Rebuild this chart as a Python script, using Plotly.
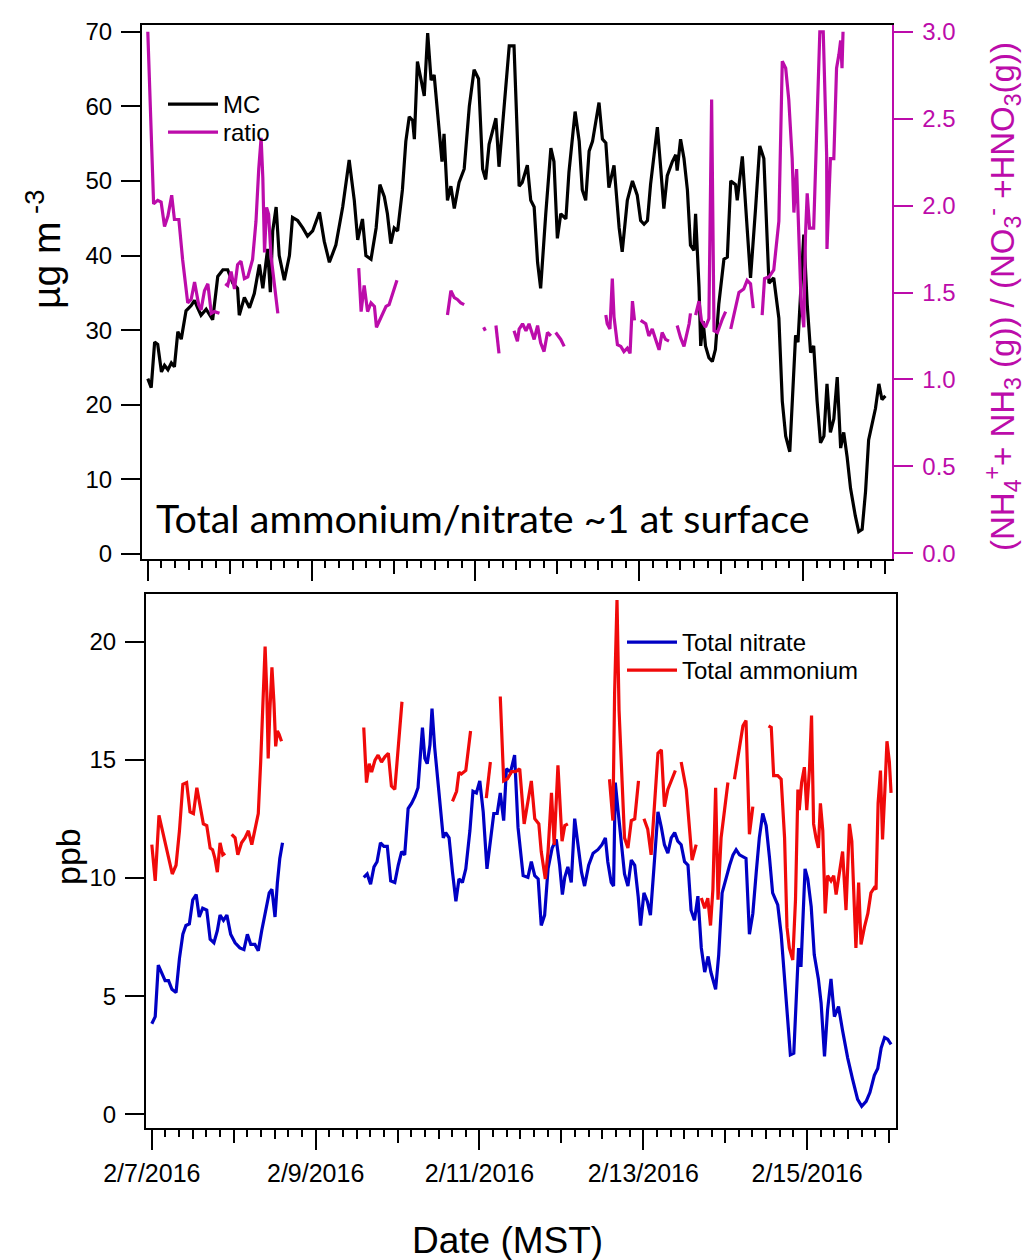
import plotly.graph_objects as go
from datetime import datetime, timedelta

START = datetime(2016, 2, 7)

# ---------------- top panel: MC (ug m-3), hours after 2/7/2016 00:00 ----------------
MC_HOURS = [0, 1, 2, 2.9, 4, 4.9, 5.9, 6.9, 7.8, 8.8, 9.8, 11.2, 12.7, 13.7, 14.6, 15.6, 17.1, 19, 20.5, 22,
            23.4, 24.9, 26.3, 26.8, 28.3, 29.8, 31.2, 32.7, 33.7, 35.1, 35.9, 36.6, 37.6, 38.5, 40, 41.5, 42.4,
            43.9, 45.4, 46.8, 48.3, 50.3, 51.7, 53.2, 55.1, 57.1, 59, 60.5, 61.5, 62.9, 63.9, 65.4, 66.9, 68,
            69.3, 70.2, 71.2, 72.2, 73.2, 74.6, 75.6, 76.6, 77.6, 78.1, 79, 80, 81, 82, 83, 83.9, 85.4, 86.2,
            86.8, 87.8, 88.8, 89.8, 91.2, 92.7, 94.2, 95.6, 96.9, 98.1, 99, 100, 102, 102.9, 103.9, 105.9,
            107.3, 108.8, 109.7, 111.2, 112.2, 113.2, 114.2, 115.1, 116.6, 118.1, 119, 120, 121, 122.5, 123.4,
            125.2, 126.4, 127.3, 128.3, 129.3, 130.3, 132.2, 133.2, 134.2, 135.1, 136.6, 138.1, 139, 140.5,
            142, 143.4, 144.4, 145.4, 146.4, 147.3, 149.3, 150.3, 151.2, 152.2, 153.7, 154.7, 155.1, 156.1,
            157.1, 158.1, 159, 160, 160.5, 161.5, 162, 162.7, 163.4, 164.4, 165.4, 166.3, 167.3, 168.8, 169.8,
            170.8, 172.2, 172.7, 174.2, 175.6, 176.6, 178.1, 179.3, 180.5, 182, 183.4, 184.9, 185.9, 186.9,
            188.1, 189.1, 189.8, 190.5, 191.4, 192.2, 193.2, 194.2, 195.1, 196.1, 197.1, 198.1, 199, 200, 201,
            202, 203, 203.9, 204.9, 205.9, 207.3, 208.3, 209.3, 210.3, 211.2, 212.2, 213.2, 214.2, 215.1, 216.1]
MC_VALUES = [23.5, 22.3, 28.4, 28.1, 24.4, 25.3, 24.7, 25.6, 25.1, 29.8, 28.8, 32.6, 33.3, 34, 33, 32, 32.8, 31.4,
             37.2, 38.1, 38.1, 36.3, 35.6, 32, 34.4, 33, 34.9, 38.8, 35.6, 40.9, 35.1, 43.3, 46.5, 40, 36.7, 40,
             45.1, 44.7, 43.7, 42.6, 43.3, 45.8, 41.9, 39.1, 41.4, 46.5, 52.8, 47.4, 42.1, 44.9, 40, 39.5, 43.7,
             49.5, 47.9, 45.6, 41.6, 43.7, 43.3, 48.8, 55.3, 58.6, 58.1, 55.6, 66, 63.7, 61.4, 69.8, 63.5, 64.2,
             56.7, 52.6, 56.3, 47.4, 49.3, 46.3, 49.8, 51.6, 60, 64.9, 63.7, 51.6, 50.2, 54.9, 58.4, 51.9, 57.2,
             68.1, 68.1, 49.3, 49.8, 52.1, 47.4, 46.5, 39.1, 35.6, 45.6, 54.4, 52.6, 42.3, 45.6, 44.9, 51.2, 59.3,
             55.3, 48.8, 47.4, 54, 55.3, 60.5, 55.6, 55.1, 49.1, 52.1, 43.7, 40.5, 47.4, 50, 48.1, 44.7, 44.2,
             44.7, 49.5, 57.2, 51.6, 46.3, 50.7, 52.6, 53.5, 51.4, 55.6, 53, 48.8, 41.4, 40.7, 45.6, 35.8, 27.9,
             31.2, 27.9, 26.3, 25.8, 27.4, 33.5, 39.5, 39.8, 50, 49.5, 47.4, 53.3, 43.7, 37, 46.5, 54.7, 53, 36.3,
             37, 31.6, 20.5, 15.8, 13.7, 22.8, 29.3, 28.4, 35.3, 42.8, 33.5, 27, 27.9, 20.5, 14.9, 15.8, 22.8,
             16.3, 18.1, 23.7, 14.2, 16.3, 13, 8.8, 5.1, 3, 3.3, 8.4, 15.3, 17.2, 19.5, 22.8, 20.7, 21.2]

# ratio (NH4+ + NH3) / (NO3- + HNO3): segments separated by missing data
RATIO_HOURS = [
    [0, 1, 1.7, 2.9, 3.9, 4.9, 5.9, 7, 7.8, 9.1, 10.2, 11.7, 12.7, 13.7, 14.9, 15.6, 16.6, 17.6, 18.6, 19.5, 21],
    [22.7, 23.4, 24.4, 25.4, 26.3, 27.3, 28.3, 29.3, 30.7, 31.7, 32.5, 33.2, 33.7, 34.2, 34.8, 35.4, 36.1, 37.1, 38.1],
    [61.8, 62.5, 63.4, 63.9, 64.4, 65.4, 66.4, 67, 68.3, 69.8, 70.7, 71.7, 73],
    [87.8, 88.8, 89.8, 90.7, 91.7, 92.7],
    [98.4, 98.9],
    [102, 102.9],
    [107.3, 108.3, 108.8, 109.8, 110.8, 111.7, 113.2, 114.2, 115.1, 116.1, 117.1, 118.1],
    [119.5, 121, 122],
    [134.2, 134.6, 135.4, 136.1, 136.6, 137.6, 138.6, 139.5, 140.5, 141.3, 142, 142.6],
    [144.4, 145.9, 146.8, 147.8, 148.8, 149.8, 150.7, 151.7, 152.7],
    [155.1, 156.1, 157.1, 158.6, 159],
    [160.5, 161.5, 162.2, 163.4, 164.4, 165.2, 165.9, 166.9, 168.4, 169.3],
    [170.8, 172.2, 173.2, 174.6, 175.6, 176.6, 177.4],
    [180, 180.7, 182, 183.4, 184.9, 185.9, 186.9, 187.8, 188.8, 189.3, 190.1, 190.7, 191.4, 192.2, 192.7,
     193.2, 193.9, 195.1, 196.1, 196.9, 197.9, 198.9, 199, 200, 201, 201.8, 202.5, 203, 203.4, 203.7],
]
RATIO_VALUES = [
    [3.0, 2.47, 2.01, 2.03, 2.02, 1.88, 1.94, 2.06, 1.92, 1.92, 1.69, 1.44, 1.46, 1.56, 1.43, 1.40, 1.51, 1.55,
     1.38, 1.39, 1.38],
    [1.55, 1.54, 1.62, 1.52, 1.66, 1.68, 1.58, 1.59, 1.69, 1.91, 2.21, 2.39, 2.16, 1.73, 1.99, 1.95, 1.71, 1.55, 1.38],
    [1.64, 1.39, 1.54, 1.47, 1.39, 1.44, 1.42, 1.30, 1.36, 1.42, 1.43, 1.49, 1.57],
    [1.37, 1.51, 1.47, 1.46, 1.44, 1.43],
    [1.30, 1.28],
    [1.31, 1.15],
    [1.28, 1.22, 1.29, 1.32, 1.28, 1.32, 1.23, 1.31, 1.21, 1.16, 1.27, 1.25],
    [1.27, 1.23, 1.19],
    [1.37, 1.32, 1.29, 1.58, 1.36, 1.20, 1.19, 1.16, 1.18, 1.15, 1.45, 1.34],
    [1.34, 1.32, 1.25, 1.29, 1.23, 1.17, 1.27, 1.23, 1.22],
    [1.31, 1.24, 1.19, 1.32, 1.38],
    [1.37, 1.45, 1.34, 1.30, 1.35, 2.61, 1.28, 1.27, 1.35, 1.39],
    [1.29, 1.42, 1.50, 1.52, 1.57, 1.55, 1.41],
    [1.37, 1.58, 1.59, 1.63, 1.91, 2.83, 2.79, 2.61, 2.27, 1.96, 2.21, 1.79, 1.45, 1.30, 1.83, 2.07, 1.87,
     1.87, 2.57, 3.0, 3.0, 2.29, 1.75, 2.27, 2.27, 2.79, 2.87, 2.95, 2.79, 3.0],
]

# ---------------- bottom panel (ppb) ----------------
NITRATE_HOURS = [
    [0.0, 1.0, 1.9, 2.9, 3.9, 4.9, 5.9, 7.1, 8.1, 9.1, 10.0, 11.0, 12.0, 13.0, 13.9, 14.9, 16.1, 17.1, 18.2,
     19.2, 20.0, 21.0, 22.0, 23.1, 24.4, 25.8, 27.0, 28.0, 29.0, 30.2, 31.2, 32.2, 33.5, 34.4, 35.2, 36.1,
     36.8, 37.5, 38.3],
    [62.1, 63.1, 64.1, 65.1, 66.0, 67.0, 68.0, 69.0, 70.0, 71.2, 72.2, 73.2, 74.1, 75.1, 76.1, 77.1, 78.0,
     78.7, 79.3, 80.0, 80.7, 81.5, 82.1, 82.9, 83.9, 84.9, 85.4, 86.1, 87.1, 88.1, 89.1, 90.0, 91.0, 92.0,
     93.2, 94.1, 95.1, 96.1, 97.1, 98.2, 99.2, 100.2, 101.2, 102.1, 103.1, 103.9, 105.1, 106.3, 107.3, 108.8,
     110.2, 111.2, 112.2, 113.2, 114.1, 115.1, 116.1, 117.3, 118.5, 119.5, 120.3, 121.0, 121.9, 122.9, 123.9,
     124.9, 125.9, 126.8, 128.0, 129.3, 130.7, 131.9, 132.9, 133.6, 134.6, 135.3, 135.8, 136.6, 137.4, 138.5,
     139.5, 140.5, 141.5, 142.5, 143.2, 144.2, 145.2, 146.1, 147.1, 148.3, 149.3, 150.2, 151.2, 152.2, 153.2,
     154.1, 155.1, 156.1, 157.1, 158.0, 159.0, 160.0, 161.0, 162.0, 163.0, 163.8, 165.2, 166.1, 167.1, 168.1,
     169.3, 170.3, 171.2, 172.2, 173.2, 174.1, 175.1, 176.1, 177.1, 178.0, 179.0, 180.0, 181.0, 181.9, 183.4,
     184.4, 185.4, 186.3, 187.1, 188.1, 188.8, 189.5, 190.2, 190.7, 191.4, 192.2, 193.2, 194.1, 195.3, 196.1,
     197.1, 198.0, 199.0, 200.0, 201.2, 202.4, 203.9, 205.3, 206.8, 208.0, 209.3, 210.4, 211.7, 212.7, 213.7,
     214.7, 215.6, 216.6],
]
NITRATE_VALUES = [
    [3.83, 4.13, 6.31, 6.02, 5.66, 5.66, 5.29, 5.15, 6.6, 7.62, 7.99, 8.06, 9.08, 9.3, 8.35, 8.72, 8.64, 7.41,
     7.26, 7.77, 8.43, 8.21, 8.43, 7.62, 7.26, 7.04, 6.97, 7.62, 7.19, 7.19, 6.92, 7.77, 8.64, 9.37, 9.52,
     8.35, 9.81, 10.83, 11.49],
    [10.03, 10.17, 9.74, 10.47, 10.69, 11.49, 11.34, 11.34, 9.88, 9.81, 10.54, 11.12, 10.98, 12.94, 13.16,
     13.45, 13.82, 15.2, 16.37, 15.06, 14.84, 15.64, 17.17, 15.5, 14.04, 12.73, 11.7, 11.92, 11.7, 10.25,
     9.01, 9.96, 9.81, 10.39, 12.0, 13.67, 13.6, 14.11, 12.8, 10.39, 11.7, 12.73, 12.73, 13.6, 12.43, 14.62,
     14.48, 15.2, 12.14, 10.1, 10.03, 10.69, 10.1, 9.96, 7.99, 8.43, 10.39, 11.27, 11.63, 10.54, 9.3, 10.03,
     10.47, 9.81, 12.51, 11.34, 10.25, 9.66, 10.54, 11.05, 11.2, 11.41, 11.7, 10.69, 9.81, 9.66, 14.04, 12.87,
     11.7, 10.17, 9.66, 10.76, 10.54, 9.23, 7.99, 9.37, 9.01, 8.43, 10.39, 12.8, 12.14, 11.41, 11.05, 11.7,
     11.92, 11.56, 11.41, 10.69, 10.54, 8.64, 8.21, 9.23, 7.04, 6.02, 6.68, 6.02, 5.29, 6.75, 9.37, 9.96,
     10.54, 10.98, 11.2, 10.98, 10.9, 10.83, 7.62, 8.5, 10.25, 11.7, 12.73, 12.22, 10.83, 9.37, 8.86, 7.62,
     5.73, 3.98, 2.52, 2.59, 4.71, 7.04, 6.24, 8.35, 10.39, 9.96, 8.79, 6.75, 5.73, 4.71, 2.45, 4.42, 5.73,
     4.13, 4.56, 3.54, 2.38, 1.5, 0.63, 0.34, 0.55, 0.92, 1.65, 1.94, 2.81, 3.25, 3.18, 2.96],
]

AMMONIUM_HOURS = [
    [0.0, 1.0, 2.1, 3.4, 4.9, 6.0, 7.1, 8.1, 9.1, 10.2, 11.2, 12.2, 13.2, 14.1, 15.1, 16.1, 17.1, 17.8, 18.5,
     19.2, 20.0, 20.8, 21.5],
    [23.4, 24.4, 25.2, 26.3, 27.3, 28.3, 29.3, 30.2, 31.2, 31.9, 32.5, 33.2, 33.7, 34.1, 34.6, 35.2, 35.8,
     36.3, 36.8, 37.3, 38.0],
    [62.1, 62.9, 63.7, 64.4, 65.4, 66.3, 67.3, 68.3, 69.3, 70.2, 71.2, 72.2, 73.3],
    [88.1, 89.3, 90.0, 90.7, 92.0, 93.4],
    [98.0, 99.2],
    [102.1, 103.1, 104.2, 105.4, 106.6, 107.8, 109.1, 110.0, 111.2, 112.2, 113.4, 114.1, 115.3, 116.1, 117.1,
     117.9, 119.0, 120.2, 121.0, 121.9],
    [134.1, 135.1, 135.6, 136.3, 136.9, 137.6, 138.5, 139.5, 140.5, 141.5, 142.6],
    [144.2, 145.3, 146.3, 147.3, 148.3, 149.3, 150.2, 151.2, 152.2, 153.4],
    [155.1, 156.6, 157.6, 158.3, 159.5],
    [161.0, 162.0, 162.9, 163.7, 164.4, 165.2, 165.9, 166.8, 167.8, 168.8],
    [170.7, 172.2, 173.2, 174.1, 175.1, 176.1],
    [180.7, 181.5, 182.2, 183.4, 184.4, 185.4, 186.1, 186.8, 187.8, 188.6, 189.3, 189.7, 190.4, 191.2, 191.9,
     192.7, 193.3, 193.9, 194.6, 195.3, 195.9, 196.6, 197.3, 198.0, 199.0, 199.8, 200.5, 201.5, 202.4, 203.4,
     204.4, 205.1, 205.6, 206.3, 207.1, 207.8, 208.8, 209.8, 210.7, 211.7, 212.2, 212.8, 213.5, 214.1, 214.8,
     215.4, 216.1, 216.6],
]
AMMONIUM_VALUES = [
    [11.41, 9.88, 12.65, 11.85, 10.83, 10.17, 10.54, 12.0, 13.97, 14.04, 12.8, 12.73, 13.82, 13.09, 12.29,
     12.22, 11.27, 11.2, 10.83, 10.25, 11.49, 10.98, 11.05],
    [11.85, 11.7, 10.98, 11.49, 11.7, 12.0, 11.41, 12.0, 12.73, 14.91, 17.1, 19.8, 17.83, 15.06, 17.1, 18.92,
     17.39, 15.57, 16.22, 16.08, 15.79],
    [16.37, 14.04, 14.84, 14.48, 14.99, 15.2, 14.91, 15.13, 15.28, 13.89, 13.75, 15.64, 17.46],
    [13.24, 13.67, 14.48, 14.4, 14.55, 16.22],
    [13.38, 14.91],
    [17.68, 14.11, 14.2, 14.5, 14.5, 14.62, 12.29, 13.09, 14.11, 12.51, 12.29, 11.12, 9.96, 11.12, 13.6, 11.4,
     14.77, 11.56, 12.22, 12.29],
    [14.18, 12.43, 17.83, 21.76, 17.1, 14.48, 11.7, 11.27, 12.43, 12.5, 14.11],
    [12.51, 12.07, 10.98, 13.31, 15.28, 15.42, 13.02, 13.75, 14.11, 14.55],
    [14.91, 13.75, 12.0, 10.76, 11.41],
    [9.15, 8.72, 9.15, 7.99, 9.52, 13.82, 9.08, 11.7, 12.87, 14.04],
    [14.18, 15.64, 16.44, 16.66, 11.85, 13.02],
    [16.44, 16.37, 14.33, 14.33, 14.18, 11.7, 7.92, 7.04, 6.53, 9.08, 13.75, 12.87, 14.04, 14.69, 12.87, 14.62,
     16.88, 12.29, 11.7, 11.27, 13.16, 12.0, 8.5, 10.1, 9.88, 10.1, 9.3, 10.25, 11.12, 8.64, 12.29, 11.56,
     9.81, 7.04, 9.81, 7.19, 7.92, 8.5, 9.37, 9.59, 9.52, 13.16, 14.55, 11.63, 13.75, 15.79, 14.91, 13.6],
]

TOP_Y_TICKS = [0, 10, 20, 30, 40, 50, 60, 70]
RATIO_TICKS = [0.0, 0.5, 1.0, 1.5, 2.0, 2.5, 3.0]
PPB_TICKS = [0, 5, 10, 15, 20]

MAGENTA = "#BC0CAA"
BLUE = "#0000C4"
RED = "#F00A0A"
FONT = "Liberation Sans"


def to_time(h):
    return START + timedelta(hours=h)


def join(hour_segments, value_segments):
    xs, ys = [], []
    for hs, vs in zip(hour_segments, value_segments):
        assert len(hs) == len(vs), (len(hs), len(vs), hs[0])
        if xs:
            xs.append(None)
            ys.append(None)
        xs += [to_time(h) for h in hs]
        ys += vs
    return xs, ys


mc_x, mc_y = join([MC_HOURS], [MC_VALUES])
ra_x, ra_y = join(RATIO_HOURS, RATIO_VALUES)
ni_x, ni_y = join(NITRATE_HOURS, NITRATE_VALUES)
am_x, am_y = join(AMMONIUM_HOURS, AMMONIUM_VALUES)

LW = 3.2
fig = go.Figure()
fig.add_trace(go.Scatter(x=mc_x, y=mc_y, mode="lines", name="MC", line=dict(color="black", width=LW),
                         xaxis="x", yaxis="y", legend="legend"))
fig.add_trace(go.Scatter(x=ra_x, y=ra_y, mode="lines", name="ratio", line=dict(color=MAGENTA, width=LW),
                         xaxis="x", yaxis="y2", legend="legend3"))
fig.add_trace(go.Scatter(x=ni_x, y=ni_y, mode="lines", name="Total nitrate", line=dict(color=BLUE, width=LW),
                         xaxis="x2", yaxis="y3", legend="legend2"))
fig.add_trace(go.Scatter(x=am_x, y=am_y, mode="lines", name="Total ammonium", line=dict(color=RED, width=LW),
                         xaxis="x2", yaxis="y3", legend="legend4"))
# empty helper traces so the overlay tick axes are drawn
fig.add_trace(go.Scatter(x=[], y=[], xaxis="x3", yaxis="y", showlegend=False, hoverinfo="skip"))
fig.add_trace(go.Scatter(x=[], y=[], xaxis="x4", yaxis="y3", showlegend=False, hoverinfo="skip"))

W, H = 1025, 1260
XR = [to_time(-1.7), to_time(217.9)]
TOP_DOM_X = [142 / W, 891.5 / W]
BOT_DOM_X = [146 / W, 895.5 / W]
TOP_DOM_Y = [1 - 559.3 / H, 1 - 25 / H]
BOT_DOM_Y = [1 - 1128 / H, 1 - 594 / H]

DAY = 86400000
common_x = dict(type="date", range=XR, showgrid=False, zeroline=False, tick0="2016-02-07", automargin=False,
                ticks="outside", tickcolor="black", tickwidth=2)
main_x = dict(common_x, dtick=2 * DAY, ticklen=20, showline=True, linecolor="black", linewidth=2, mirror=True,
              minor=dict(dtick=DAY / 6, ticklen=7, ticks="outside", tickcolor="black", tickwidth=2,
                         tick0="2016-02-07", showgrid=False))
over_x = dict(common_x, dtick=DAY, ticklen=14, showline=False, showticklabels=False,
              minor=dict(dtick=DAY / 2, ticklen=10, ticks="outside", tickcolor="black", tickwidth=2,
                         tick0="2016-02-07", showgrid=False))

tickfont = dict(family=FONT, size=24, color="black")


def leg(x_px, y_px):
    return dict(x=x_px / W, y=1 - y_px / H, xanchor="left", yanchor="top", bgcolor="rgba(0,0,0,0)",
                font=dict(family=FONT, size=24, color="black"), itemwidth=50)


fig.update_layout(
    width=W, height=H, margin=dict(l=0, r=0, t=0, b=0, autoexpand=False),
    paper_bgcolor="white", plot_bgcolor="white", showlegend=True,
    xaxis=dict(main_x, domain=TOP_DOM_X, anchor="y", showticklabels=False),
    xaxis3=dict(over_x, domain=TOP_DOM_X, anchor="y", overlaying="x"),
    xaxis2=dict(main_x, domain=BOT_DOM_X, anchor="y3", showticklabels=True, tickformat="%-m/%-d/%Y",
                tickfont=dict(family=FONT, size=25, color="black"), ticklabelstandoff=2),
    xaxis4=dict(over_x, domain=BOT_DOM_X, anchor="y3", overlaying="x2"),
    yaxis=dict(domain=TOP_DOM_Y, anchor="x", range=[-0.71, 70.9], tickvals=TOP_Y_TICKS, showgrid=False,
               zeroline=False, showline=True, linecolor="black", linewidth=2, ticks="outside", ticklen=19,
               tickwidth=2, tickcolor="black", tickfont=tickfont, ticklabelstandoff=4, automargin=False),
    yaxis2=dict(anchor="x", overlaying="y", side="right", range=[-0.035, 3.039], tickvals=RATIO_TICKS,
                tickformat=".1f", showgrid=False, zeroline=False, showline=True, linecolor=MAGENTA, linewidth=2,
                ticks="outside", ticklen=19, tickwidth=2, tickcolor=MAGENTA, automargin=False,
                tickfont=dict(family=FONT, size=24, color=MAGENTA), ticklabelstandoff=5),
    yaxis3=dict(domain=BOT_DOM_Y, anchor="x2", range=[-0.58, 22.02], tickvals=PPB_TICKS, showgrid=False,
                zeroline=False, showline=True, mirror=True, linecolor="black", linewidth=2, ticks="outside",
                ticklen=19, tickwidth=2, tickcolor="black", tickfont=tickfont, ticklabelstandoff=4,
                automargin=False),
    legend=leg(163, 82),
    legend3=leg(163, 110),
    legend2=leg(622, 620),
    legend4=leg(622, 648),
    annotations=[
        dict(text="Total ammonium/nitrate ~1 at surface", x=154 / W, y=1 - 517 / H, xref="paper", yref="paper",
             xanchor="left", yanchor="middle", showarrow=False, font=dict(family="Lato", size=39.5, color="black")),
        dict(text="µg m<sup> -3</sup>", x=44 / W, y=1 - 250 / H, xref="paper", yref="paper", textangle=-90,
             xanchor="center", yanchor="middle", showarrow=False, font=dict(family=FONT, size=39, color="black")),
        dict(text="ppb", x=68 / W, y=1 - 857 / H, xref="paper", yref="paper", textangle=-90,
             xanchor="center", yanchor="middle", showarrow=False, font=dict(family=FONT, size=34, color="black")),
        dict(text="(NH<sub>4</sub><sup>+</sup>+ NH<sub>3</sub> (g)) / (NO<sub>3</sub><sup>-</sup> +HNO<sub>3</sub>(g))",
             x=1002 / W, y=1 - 297 / H, xref="paper", yref="paper", textangle=-90, xanchor="center",
             yanchor="middle", showarrow=False, font=dict(family=FONT, size=33, color=MAGENTA)),
        dict(text="Date (MST)", x=507 / W, y=1 - 1240 / H, xref="paper", yref="paper", xanchor="center",
             yanchor="middle", showarrow=False, font=dict(family=FONT, size=37, color="black")),
    ],
)

fig.write_html("out.html")
